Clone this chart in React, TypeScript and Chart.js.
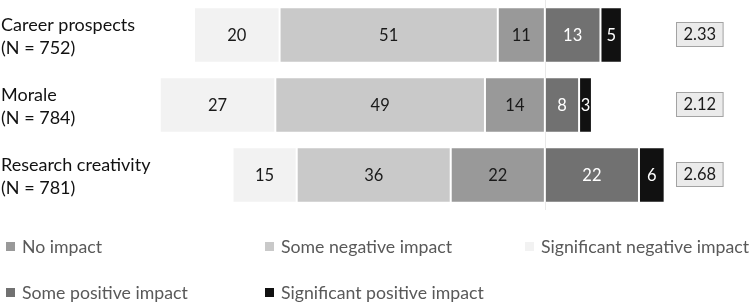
import React, { useEffect, useRef } from "react";
import { Chart, registerables } from "chart.js";

Chart.register(...registerables);

const categories = ["Career prospects", "Morale", "Research creativity"];
const sampleSizes = ["(N = 752)", "(N = 784)", "(N = 781)"];
const noImpact = [11, 14, 22];
const someNegative = [51, 49, 36];
const significantNegative = [20, 27, 15];
const somePositive = [13, 8, 22];
const significantPositive = [5, 3, 6];
const meanScores = ["2.33", "2.12", "2.68"];
const legendLabels = [
  "No impact",
  "Some negative impact",
  "Significant negative impact",
  "Some positive impact",
  "Significant positive impact",
];

const FONT = "Lato";
const colors = ["#999999", "#c9c9c9", "#f2f2f2", "#717171", "#111111"];
const labelColors = ["#1a1a1a", "#1a1a1a", "#1a1a1a", "#ffffff", "#ffffff"];

const overlayPlugin = {
  id: "overlay",
  beforeDatasetsDraw(chart: any) {
    const { ctx, scales } = chart;
    const x0 = Math.round(scales.x.getPixelForValue(0)) + 0.5;
    ctx.save();
    ctx.strokeStyle = "#d4d4d4";
    ctx.lineWidth = 1;
    ctx.beginPath();
    ctx.moveTo(x0, 0);
    ctx.lineTo(x0, chart.chartArea.bottom);
    ctx.stroke();
    ctx.restore();
  },
  afterDatasetsDraw(chart: any) {
    const { ctx, scales } = chart;
    ctx.save();
    // segment values
    ctx.font = `16.5px ${FONT}`;
    ctx.textAlign = "center";
    ctx.textBaseline = "middle";
    chart.data.datasets.forEach((ds: any, di: number) => {
      const meta = chart.getDatasetMeta(di);
      meta.data.forEach((el: any, i: number) => {
        const v = Math.abs(ds.data[i]);
        ctx.fillStyle = labelColors[di];
        ctx.fillText(String(v), (el.x + el.base) / 2, el.y + 1);
      });
    });
    // vertical center line over bars
    const x0 = Math.round(scales.x.getPixelForValue(0)) + 0.5;
    ctx.strokeStyle = "rgba(235,235,235,0.9)";
    ctx.lineWidth = 1;
    ctx.beginPath();
    ctx.moveTo(x0, 0);
    ctx.lineTo(x0, chart.chartArea.bottom);
    ctx.stroke();

    // category labels
    ctx.textAlign = "left";
    ctx.fillStyle = "#111111";
    ctx.font = `18px ${FONT}`;
    categories.forEach((c, i) => {
      const y = scales.y.getPixelForValue(i);
      ctx.fillText(c, 1, y - 10);
      ctx.fillText(sampleSizes[i], 1, y + 13);
    });

    // mean boxes
    ctx.font = `16.5px ${FONT}`;
    meanScores.forEach((m, i) => {
      const y = scales.y.getPixelForValue(i);
      const w = ctx.measureText(m).width + 14;
      const bx = 676.5;
      const by = Math.round(y - 13.5) + 0.5;
      ctx.fillStyle = "#ebebeb";
      ctx.fillRect(bx, by, w, 24);
      ctx.strokeStyle = "#a3a3a3";
      ctx.strokeRect(bx, by, w, 24);
      ctx.fillStyle = "#1a1a1a";
      ctx.textAlign = "center";
      ctx.fillText(m, bx + w / 2, by + 12.5);
    });

    // legend
    const cols = [6, 265, 525];
    const rows = [247, 293];
    ctx.font = `17.7px ${FONT}`;
    ctx.textAlign = "left";
    legendLabels.forEach((lab, i) => {
      const cx = cols[i % 3];
      const cy = rows[Math.floor(i / 3)];
      ctx.fillStyle = colors[i];
      ctx.fillRect(cx, cy - 5, 9, 9);
      ctx.fillStyle = "#595959";
      ctx.fillText(lab, cx + 16, cy);
    });
    ctx.restore();
  },
};

export default function App() {
  const ref = useRef<HTMLCanvasElement | null>(null);
  useEffect(() => {
    if (!ref.current) return;
    const signed = [
      noImpact.map((v) => -v),
      someNegative.map((v) => -v),
      significantNegative.map((v) => -v),
      somePositive,
      significantPositive,
    ];
    const chart = new Chart(ref.current, {
      type: "bar",
      data: {
        labels: categories,
        datasets: signed.map((d, i) => ({
          label: legendLabels[i],
          data: d,
          backgroundColor: colors[i],
          borderColor: "rgba(255,255,255,0.7)",
          borderWidth: 1,
          borderSkipped: false,
          barPercentage: 0.79,
          categoryPercentage: 1,
        })),
      },
      options: {
        indexAxis: "y",
        animation: false,
        responsive: false,
        maintainAspectRatio: false,
        layout: { padding: { left: 117, right: 34, top: 0, bottom: 92 } },
        plugins: { legend: { display: false }, tooltip: { enabled: false } },
        scales: {
          x: { stacked: true, min: -100, max: 40, display: false },
          y: { stacked: true, display: false },
        },
      },
      plugins: [overlayPlugin],
    });
    return () => chart.destroy();
  }, []);
  return (
    <div style={{ position: "absolute", left: 0, top: 0, width: 750, height: 302, background: "#fff" }}>
      <canvas ref={ref} width={750} height={302} style={{ display: "block" }} />
    </div>
  );
}
